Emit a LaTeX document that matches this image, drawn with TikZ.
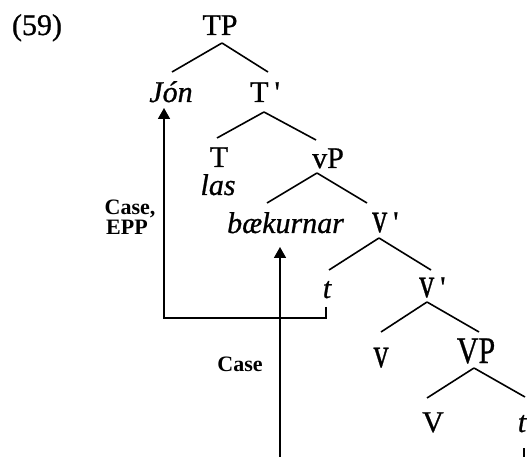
\documentclass[tikz,border=0pt]{standalone}
\usepackage{fontspec}
\usepackage{graphicx}
\setmainfont{Liberation Serif}
\usetikzlibrary{calc,arrows.meta}
\newcommand{\tallv}{\scalebox{1}[1.4]{v}}
\newcommand{\pr}{\textquotesingle}
\begin{document}
\begin{tikzpicture}[x=1pt,y=-1pt,
  lab/.style={inner sep=0pt,font=\fontsize{30}{36}\selectfont\addfontfeature{FakeBold=0.8},anchor=base},
  labw/.style={lab,anchor=base west},
  note/.style={inner sep=0pt,font=\fontsize{22}{24}\selectfont\bfseries,anchor=base},
  edge/.style={line width=1.6pt},
  arr/.style={line width=1.6pt,-{Triangle[length=11pt,width=12pt]}},
  wire/.style={line width=1.6pt}]
\useasboundingbox (0,0) rectangle (528,457);
% nodes
\node[lab] (n59) at (37,35) {(59)};
\node[lab] (TP) at (220,35) {TP};
\node[lab] (Jon) at (171,102) {\itshape Jón};
\node[labw] (Tbar) at (250,102) {T\hspace{6pt}\pr};
\node[lab] (T) at (219,167) {T};
\node[lab] (las) at (218,195) {\itshape las};
\node[lab] (vP) at (328,168) {vP};
\node[labw] (baek) at (227,233) {\itshape bækurnar};
\node[labw] (vbar1) at (372,232) {\tallv\hspace{6pt}\pr};
\node[lab] (t1) at (327,298) {\itshape t};
\node[labw] (vbar2) at (419,297) {\tallv\hspace{6pt}\pr};
\node[lab] (v) at (381,367) {\tallv};
\node[lab] (VP) at (476,363) {\scalebox{1}[1.25]{VP}};
\node[lab] (V) at (433,432) {V};
\node[lab] (t2) at (522,432) {\itshape t};
\node[note] (case1) at (130,215) {Case,};
\node[note] (epp) at (127,235) {EPP};
\node[note] (case2) at (240,372) {Case};
% tree edges
\draw[edge] ($(TP.base)+(2,8)$) -- ($(Jon.base)+(1,-30)$);
\draw[edge] ($(TP.base)+(2,8)$) -- ($(Tbar.base west)+(18,-30)$);
\draw[edge] ($(Tbar.base west)+(14,10)$) -- ($(T.base)+(-2,-29)$);
\draw[edge] ($(Tbar.base west)+(14,10)$) -- ($(vP.base)+(-12,-28)$);
\draw[edge] ($(vP.base)+(-11,5)$) -- ($(baek.base west)+(40,-30)$);
\draw[edge] ($(vP.base)+(-11,5)$) -- ($(vbar1.base west)+(-5,-29)$);
\draw[edge] ($(vbar1.base west)+(7,6)$) -- ($(t1.base)+(2,-28)$);
\draw[edge] ($(vbar1.base west)+(7,6)$) -- ($(vbar2.base west)+(12,-27)$);
\draw[edge] ($(vbar2.base west)+(8,5)$) -- ($(v.base)+(0,-35)$);
\draw[edge] ($(vbar2.base west)+(8,5)$) -- ($(VP.base)+(3,-31)$);
\draw[edge] ($(VP.base)+(-2,5)$) -- ($(V.base)+(-6,-34)$);
\draw[edge] ($(VP.base)+(-2,5)$) -- ($(t2.base)+(3,-35)$);
% movement arrows
\draw[arr] ($(t1.base)+(-1,9)$) -- ++(0,11) -| ($(Jon.base)+(-7,6)$);
\coordinate (b2) at (280,457);
\coordinate (tip2) at ($(baek.base west)+(0,14)$);
\draw[arr] (b2) -- (b2 |- tip2);
\coordinate (b3) at (524,457);
\draw[wire] ($(t2.base)+(2,16)$) -- (b3);
\end{tikzpicture}
\end{document}
